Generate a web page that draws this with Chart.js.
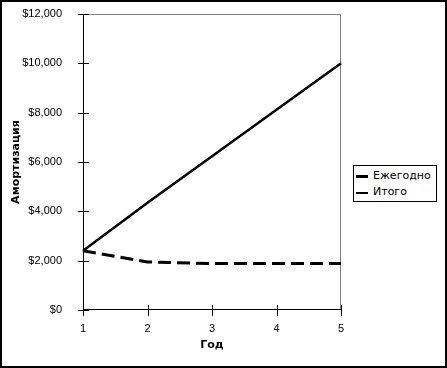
<!DOCTYPE html>
<html>
<head>
<meta charset="utf-8">
<script src="https://cdn.jsdelivr.net/npm/chart.js@4/dist/chart.umd.min.js"></script>
<style>
  html, body { margin: 0; padding: 0; background: #fff; }
  #wrap { position: relative; width: 447px; height: 368px; }
  #legend {
    position: absolute; left: 353px; top: 165px; width: 82px; height: 35px;
    border: 1px solid #000; background: #fff;
    font: 11px "DejaVu Sans", sans-serif; color: #000;
  }
  .item { position: absolute; left: 2px; height: 14px; line-height: 14px; }
  .item .swatch { position: absolute; left: 0; top: 7px; width: 12px; background: #000; }
  .item .txt { position: absolute; left: 17px; top: 0; white-space: nowrap; }
</style>
</head>
<body>
<div id="wrap">
  <canvas id="chart" width="447" height="368"></canvas>
  <div id="legend"></div>
</div>
<script>
// Данные
const years = ['1', '2', '3', '4', '5'];
const annual = [2400, 1950, 1883, 1883, 1884];   // Ежегодно
const total = [2400, 4350, 6233, 8116, 10000];   // Итого
const seriesNames = ['Ежегодно', 'Итого'];
const yMin = 0, yMax = 12000, yStep = 2000;

// рамка вокруг всей картинки и серая рамка области графика
const framePlugin = {
  id: 'frame',
  beforeDraw(chart) {
    const ctx = chart.ctx;
    const a = chart.chartArea;
    ctx.save();
    ctx.strokeStyle = '#000';
    ctx.lineWidth = 2;
    ctx.strokeRect(1, 1, chart.width - 2, chart.height - 2);
    ctx.strokeStyle = '#808080';
    ctx.lineWidth = 1;
    ctx.beginPath();
    ctx.moveTo(a.left, a.top + 0.5);
    ctx.lineTo(a.right - 0.5, a.top + 0.5);
    ctx.lineTo(a.right - 0.5, a.bottom);
    ctx.stroke();
    ctx.restore();
  },
  afterDatasetsDraw(chart) {
    // оси и засечки, пересекающие ось
    const ctx = chart.ctx;
    const a = chart.chartArea;
    const xs = chart.scales.x, ys = chart.scales.y;
    ctx.save();
    ctx.strokeStyle = '#000';
    ctx.lineWidth = 1;
    ctx.beginPath();
    ctx.moveTo(a.left + 0.5, a.top);
    ctx.lineTo(a.left + 0.5, a.bottom);
    ctx.moveTo(a.left, a.bottom - 0.5);
    ctx.lineTo(a.right, a.bottom - 0.5);
    ys.ticks.forEach(t => {
      const y = Math.round(ys.getPixelForValue(t.value)) + 0.5;
      ctx.moveTo(a.left - 5, y);
      ctx.lineTo(a.left + 6, y);
    });
    xs.ticks.forEach((t, i) => {
      const x = Math.round(xs.getPixelForTick(i)) + 0.5;
      ctx.moveTo(x, a.bottom - 5);
      ctx.lineTo(x, a.bottom + 6);
    });
    ctx.stroke();
    ctx.restore();
  }
};

const tickFont = { family: "'Liberation Sans', sans-serif", size: 11 };
const titleFont = { family: "'DejaVu Sans', sans-serif", size: 11, weight: 'bold' };

const chart = new Chart(document.getElementById('chart'), {
  type: 'line',
  data: {
    labels: years,
    datasets: [
      {
        label: seriesNames[0],
        data: annual,
        borderColor: '#000',
        borderWidth: 3,
        borderDash: [13, 6],
        pointRadius: 0,
        tension: 0
      },
      {
        label: seriesNames[1],
        data: total,
        borderColor: '#000',
        borderWidth: 2.5,
        pointRadius: 0,
        tension: 0
      }
    ]
  },
  options: {
    responsive: false,
    animation: false,
    events: [],
    layout: { padding: { top: 14, right: 106, bottom: 0, left: 0 } },
    plugins: { legend: { display: false }, tooltip: { enabled: false } },
    scales: {
      x: {
        offset: false,
        grid: { display: false },
        border: { display: false },
        ticks: { color: '#000', font: tickFont, padding: 4, maxRotation: 0 },
        title: { display: true, text: 'Год', color: '#000', font: titleFont, padding: { top: 16, bottom: 16 } },
        afterFit(s) { s.height = 58; s.paddingLeft = 0; s.paddingRight = 0; }
      },
      y: {
        min: yMin,
        max: yMax,
        grid: { display: false },
        border: { display: false },
        ticks: {
          stepSize: yStep,
          color: '#000',
          font: tickFont,
          padding: 13,
          callback: v => '$' + v.toLocaleString('en-US')
        },
        title: { display: true, text: 'Амортизация', color: '#000', font: titleFont, padding: { top: 10, bottom: 10 } },
        afterFit(s) { s.width = 83; s.paddingTop = 0; s.paddingBottom = 0; }
      }
    }
  },
  plugins: [framePlugin]
});

// Легенда
const legend = document.getElementById('legend');
chart.data.datasets.forEach((ds, i) => {
  const item = document.createElement('div');
  item.className = 'item';
  item.style.top = (3 + i * 16) + 'px';
  const sw = document.createElement('div');
  sw.className = 'swatch';
  sw.style.height = ds.borderWidth >= 3 ? '3px' : '2px';
  sw.style.top = ds.borderWidth >= 3 ? '6px' : '7px';
  const tx = document.createElement('span');
  tx.className = 'txt';
  tx.textContent = ds.label;
  item.appendChild(sw);
  item.appendChild(tx);
  legend.appendChild(item);
});
</script>
</body>
</html>
